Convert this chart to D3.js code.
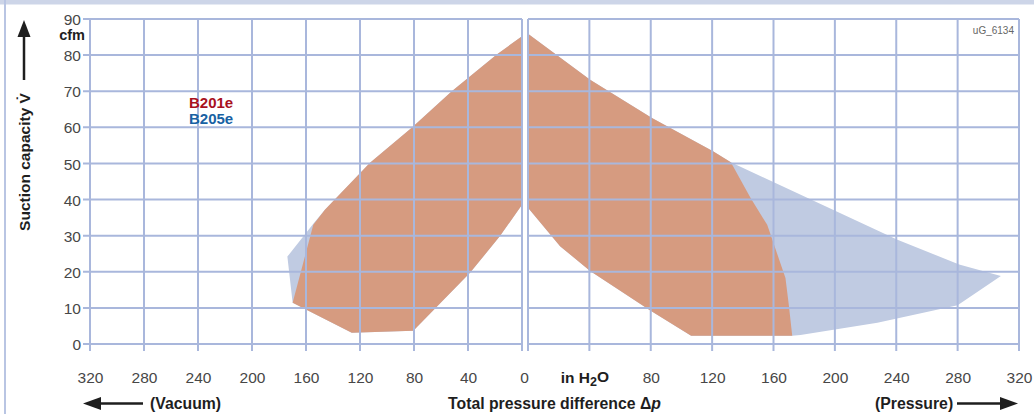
<!DOCTYPE html>
<html>
<head>
<meta charset="utf-8">
<script src="https://cdn.jsdelivr.net/npm/d3@7"></script>
<style>
  html, body { margin: 0; padding: 0; background: #fff; }
  svg { display: block; font-family: "Liberation Sans", Arial, Helvetica, sans-serif; }
</style>
</head>
<body>
<svg id="chart" width="1034" height="414"></svg>
<script>
// ---- data ----
const yTicks = [0, 10, 20, 30, 40, 50, 60, 70, 80, 90];
const vacuumTicks = [320, 280, 240, 200, 160, 120, 80, 40, 0];
const pressureTicks = [0, 40, 80, 120, 160, 200, 240, 280, 320];
const vacuumLabels = ["320", "280", "240", "200", "160", "120", "80", "40", "0"];
const pressureLabels = ["", "in H2O", "80", "120", "160", "200", "240", "280", "320"];
const seriesNames = ["B201e", "B205e"];

// [Δp in H2O, cfm]
const b201eVacuum = [[0, 85.2], [18.7, 80.2], [52, 70], [81.7, 59.9], [112.6, 50.2], [146, 37.2],
  [154.6, 33], [169.9, 11.4], [126.1, 3.1], [80.5, 3.7], [38.5, 19.7], [16.3, 29.9], [0.5, 38.3]];
const b205eVacuum = [[0, 85.2], [18.7, 80.2], [52, 70], [81.7, 59.9], [112.6, 50.2], [146, 37.2],
  [154.6, 33.3], [173.8, 24.2], [169.9, 11.4], [126.1, 3.1], [80.5, 3.7], [38.5, 19.7], [16.3, 29.9], [0.5, 38.3]];
const b201ePressure = [[0, 85.9], [40.5, 73.2], [80.8, 62.6], [120.6, 53.4], [132.2, 50.3], [145, 40.5],
  [155.9, 33], [167.8, 18.3], [170, 10.7], [172.2, 2.3], [106.3, 2.3], [79.7, 9.3], [40.5, 20.2],
  [20.9, 27.1], [0, 37.7]];
const b205ePressure = [[0, 85.9], [40.5, 73.2], [80.8, 62.6], [120.6, 53.4], [132.2, 50.3], [200.5, 36.8],
  [240.8, 28.9], [281, 22], [308.2, 18.8], [280, 10.7], [227.7, 5.9], [177.6, 2.5], [172.2, 2.3],
  [106.3, 2.3], [79.7, 9.3], [40.5, 20.2], [20.9, 27.1], [0, 37.7]];

// ---- styles ----
const gridColor = "#a9b7dc";
const orange = "#d69b80";
const blue = "#c0cbe2";
const labelColor = "#474747";

const svg = d3.select("#chart");

// frame decorations
svg.append("rect").attr("x", 0).attr("y", 0).attr("width", 1034).attr("height", 4.5).attr("fill", "#cdd5e8");
svg.append("rect").attr("x", 4).attr("y", 0).attr("width", 2).attr("height", 414).attr("fill", "#b9c5e3");

// scales
const y = d3.scaleLinear().domain([0, 90]).range([344, 19]);
const xL = d3.scaleLinear().domain([320, 0]).range([90, 522]);
const xR = d3.scaleLinear().domain([0, 320]).range([528, 1019]);

// areas
function poly(data, xs, color) {
  const line = d3.line().x(d => xs(d[0])).y(d => y(d[1]));
  svg.append("path").attr("d", line(data) + "Z").attr("fill", color);
}
poly(b205eVacuum, xL, blue);
poly(b205ePressure, xR, blue);
poly(b201eVacuum, xL, orange);
poly(b201ePressure, xR, orange);

// grid
const grid = svg.append("g").attr("stroke", gridColor).attr("stroke-width", 2).attr("fill", "none");
vacuumTicks.forEach(v => grid.append("line").attr("x1", xL(v)).attr("x2", xL(v)).attr("y1", y(90)).attr("y2", y(0) + 7));
pressureTicks.forEach(v => grid.append("line").attr("x1", xR(v)).attr("x2", xR(v)).attr("y1", y(90)).attr("y2", y(0) + 7));
yTicks.forEach(t => {
  grid.append("line").attr("x1", xL(320) - 7).attr("x2", xL(0)).attr("y1", y(t)).attr("y2", y(t));
  grid.append("line").attr("x1", xR(0)).attr("x2", xR(320)).attr("y1", y(t)).attr("y2", y(t));
});

// axes (labels only)
const yAxis = svg.append("g").attr("transform", "translate(81,0)")
  .call(d3.axisLeft(y).tickValues(yTicks).tickSize(0).tickPadding(0).tickFormat(d3.format("d")));
yAxis.select(".domain").remove();
yAxis.selectAll("text").attr("font-size", 15.5).attr("fill", labelColor).attr("font-family", null).attr("dy", "0.36em");

const xAxisL = svg.append("g").attr("transform", "translate(0,371.5)")
  .call(d3.axisBottom(xL).tickValues(vacuumTicks).tickSize(0).tickPadding(0).tickFormat((d, i) => vacuumLabels[i]));
xAxisL.select(".domain").remove();
xAxisL.selectAll("text").attr("font-size", 15.5).attr("fill", labelColor).attr("font-family", null).attr("dy", "0.71em");
xAxisL.selectAll(".tick").filter(d => d === 0).select("text").attr("dx", 2);

const xAxisR = svg.append("g").attr("transform", "translate(0,371.5)")
  .call(d3.axisBottom(xR).tickValues(pressureTicks).tickSize(0).tickPadding(0).tickFormat((d, i) => pressureLabels[i]));
xAxisR.select(".domain").remove();
xAxisR.selectAll("text").attr("font-size", 15.5).attr("fill", labelColor).attr("font-family", null).attr("dy", "0.71em");
// unit label with subscript
xAxisR.selectAll(".tick").filter(d => d === 40).select("text").each(function () {
  const t = d3.select(this).text("").attr("font-weight", "bold").attr("fill", "#1e1e1e").attr("dx", -5);
  t.append("tspan").text("in H");
  t.append("tspan").text("2").attr("font-size", 12.5).attr("dy", "0.25em");
  t.append("tspan").text("O").attr("dy", "-0.25em");
});

// cfm unit
svg.append("text").attr("x", 85).attr("y", 39.5).attr("text-anchor", "end")
  .attr("font-size", 14.5).attr("font-weight", "bold").attr("fill", "#1e1e1e").text("cfm");

// legend
svg.append("text").attr("x", 189).attr("y", 107.5).attr("font-size", 15).attr("font-weight", "bold")
  .attr("fill", "#a8121e").text(seriesNames[0]);
svg.append("text").attr("x", 189).attr("y", 123.5).attr("font-size", 15).attr("font-weight", "bold")
  .attr("fill", "#1862a3").text(seriesNames[1]);

// id
svg.append("text").attr("x", 1014).attr("y", 34).attr("text-anchor", "end")
  .attr("font-size", 10).attr("fill", "#666").text("uG_6134");

// y title + arrow
svg.append("text").attr("transform", "translate(29.5,162) rotate(-90)").attr("text-anchor", "middle")
  .attr("font-size", 15.5).attr("font-weight", "bold").attr("fill", "#1e1e1e").text("Suction capacity V\u0307");
svg.append("line").attr("x1", 24).attr("x2", 24).attr("y1", 80).attr("y2", 33).attr("stroke", "#1e1e1e").attr("stroke-width", 2.5);
svg.append("path").attr("d", "M24,20 L17.5,37 L30.5,37 Z").attr("fill", "#1e1e1e");

// bottom titles + arrows
svg.append("text").attr("x", 150).attr("y", 409).attr("font-size", 15.8).attr("font-weight", "bold")
  .attr("fill", "#1e1e1e").text("(Vacuum)");
const tt = svg.append("text").attr("x", 448).attr("y", 409).attr("font-size", 15.8).attr("font-weight", "bold")
  .attr("fill", "#1e1e1e");
tt.append("tspan").text("Total pressure difference \u0394");
tt.append("tspan").attr("font-style", "italic").text("p");
svg.append("text").attr("x", 875).attr("y", 409).attr("font-size", 15.8).attr("font-weight", "bold")
  .attr("fill", "#1e1e1e").text("(Pressure)");

svg.append("line").attr("x1", 96).attr("x2", 143).attr("y1", 403.5).attr("y2", 403.5).attr("stroke", "#1e1e1e").attr("stroke-width", 2.5);
svg.append("path").attr("d", "M83,403.5 L101,397 L101,410 Z").attr("fill", "#1e1e1e");
svg.append("line").attr("x1", 957).attr("x2", 1005).attr("y1", 403.5).attr("y2", 403.5).attr("stroke", "#1e1e1e").attr("stroke-width", 2.5);
svg.append("path").attr("d", "M1018,403.5 L1000,397 L1000,410 Z").attr("fill", "#1e1e1e");
</script>
</body>
</html>
